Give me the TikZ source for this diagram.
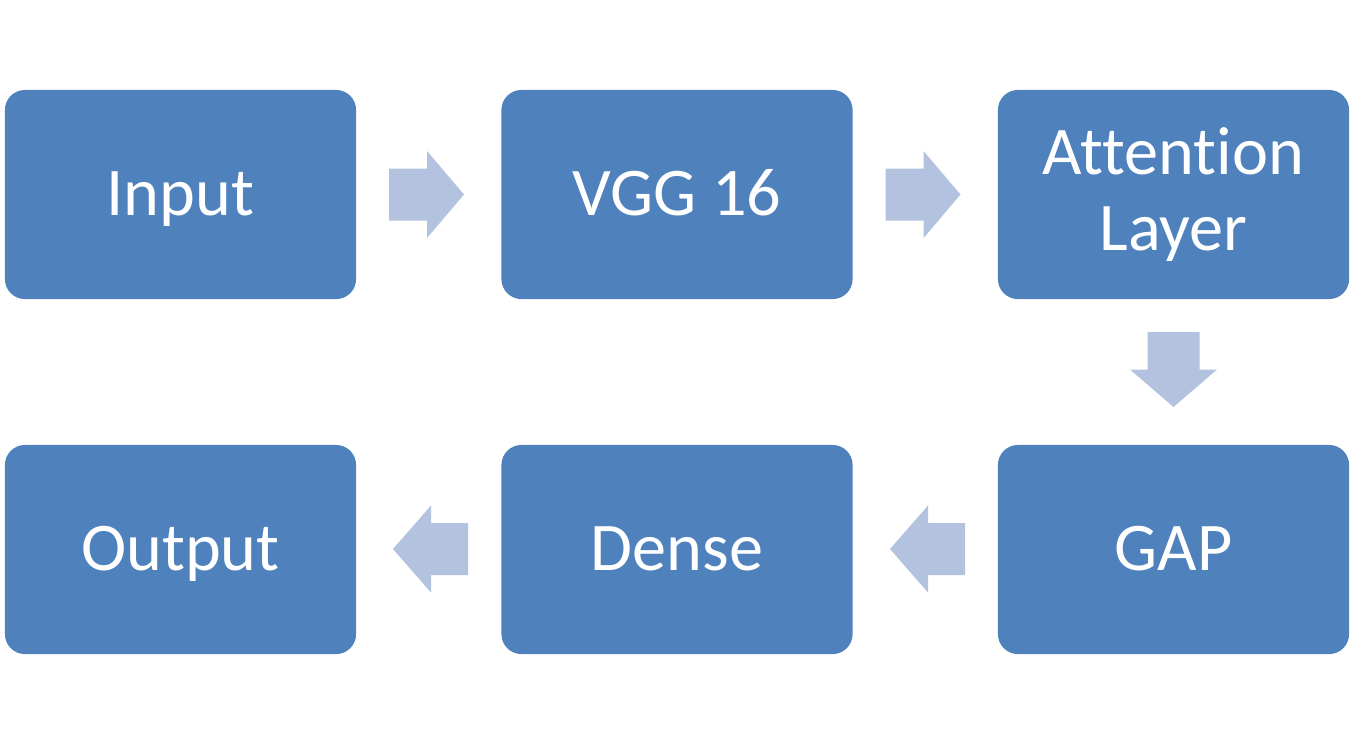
\documentclass[tikz,border=0pt]{standalone}
\usepackage{fontspec}
\setmainfont{Carlito}[Ligatures=NoCommon]
\definecolor{boxblue}{HTML}{4F81BD}
\definecolor{arrowblue}{HTML}{B3C2DE}
\begin{document}
\begin{tikzpicture}[x=0.01cm,y=-0.01cm,
  blk/.style={fill=boxblue,draw=none,rounded corners=0.2cm,minimum width=3.51cm,minimum height=2.09cm,
    text=white,align=center,inner sep=0pt,font=\fontsize{19.4}{21.7}\selectfont},
  oneline/.style={text height=15pt,text depth=3.3pt},
  rarr/.pic={\fill[arrowblue] (-37.5,-26) -- (0.5,-26) -- (0.5,-43.5) -- (37.5,0) -- (0.5,43.5) -- (0.5,26) -- (-37.5,26) -- cycle;},
  larr/.pic={\fill[arrowblue] (37.5,-26) -- (0.5,-26) -- (0.5,-43.5) -- (-37.5,0) -- (0.5,43.5) -- (0.5,26) -- (37.5,26) -- cycle;},
  darr/.pic={\fill[arrowblue] (-26,-37.5) -- (-26,0) -- (-43.5,0) -- (0,37.5) -- (43.5,0) -- (26,0) -- (26,-37.5) -- cycle;}
]
\useasboundingbox (0,0) rectangle (1370,744);
\node[blk,oneline] (input) at (180.5,194.5) {Input};
\node[blk,oneline] (vgg) at (677,194.5) {VGG 16};
\node[blk] (att) at (1173.5,194.5) {\raisebox{0pt}{Attention}\\Layer};
\node[blk,oneline] (gap) at (1173.5,549.5) {GAP};
\node[blk,oneline] (dense) at (677,549.5) {Dense};
\node[blk,oneline] (output) at (180.5,549.5) {Output};
\pic at (426.5,194.5) {rarr};
\pic at (923,194.5) {rarr};
\pic at (1173.5,369.5) {darr};
\pic at (927.5,549) {larr};
\pic at (430.5,549) {larr};
\end{tikzpicture}
\end{document}
